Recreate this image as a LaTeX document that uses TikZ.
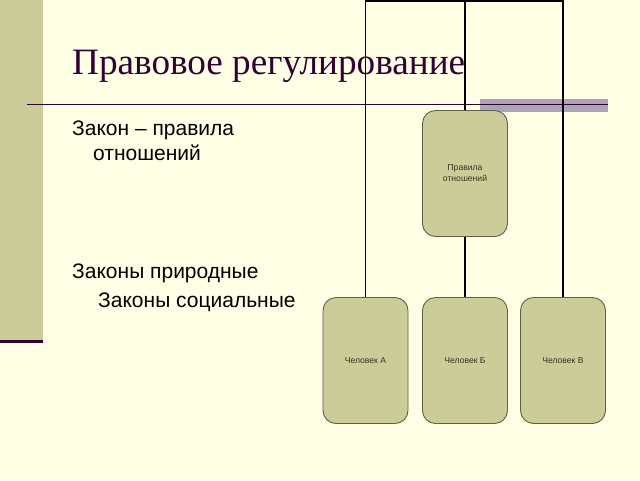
\documentclass[tikz,border=0pt]{standalone}
\usepackage{fontspec}
\setmainfont{Liberation Serif}
\newfontfamily\bodyfont{Liberation Sans}
\definecolor{bgcream}{HTML}{FFFFE5}
\definecolor{olivebar}{HTML}{CCCC99}
\definecolor{darkpurple}{HTML}{330033}
\definecolor{graybar}{HTML}{ADA4B9}
\definecolor{boxedge}{HTML}{5F5F4A}
\definecolor{boxtext}{HTML}{333322}
\begin{document}
\begin{tikzpicture}[x=1pt,y=-1pt,
  orgbox/.style={draw=boxedge, line width=0.9pt, fill=olivebar, rounded corners=13pt,
    minimum width=85pt, minimum height=126pt, inner sep=0pt,
    font=\bodyfont\fontsize{8.6}{11}\selectfont, text=boxtext, align=center},
  bodytext/.style={anchor=base west, inner sep=0pt, font=\bodyfont\fontsize{21}{25}\selectfont, text=black},
  conn/.style={draw=black, line width=1.8pt}]
\useasboundingbox (0,0) rectangle (640,480);
\fill[bgcream] (0,0) rectangle (640,480);
% left bar
\fill[olivebar] (0,0) rectangle (42.5,340);
\fill[darkpurple] (0,340) rectangle (42.5,343);
% gray accent bar
\fill[graybar] (480,99) rectangle (608,111.5);
% title rule
\draw[darkpurple, line width=1.4pt] (27,104.5) -- (608,104.5);
% title
\node[anchor=base west, inner sep=0pt, font=\fontsize{37.2}{41}\selectfont, text=darkpurple] (title) at (72,74) {Правовое регулирование};
% body text
\node[bodytext] (t1) at (72,135) {Закон – правила};
\node[bodytext] (t2) at (93,160) {отношений};
\node[bodytext] (t3) at (72,278) {Законы природные};
\node[bodytext] (t4) at (98,307) {Законы социальные};
% org chart
\node[orgbox] (top) at (465,173.5) {Правила\\отношений};
\node[orgbox] (pa) at (365.5,360.5) {Человек А};
\node[orgbox] (pb) at (465,360.5) {Человек Б};
\node[orgbox] (pc) at (563,360.5) {Человек В};
\coordinate (hub) at (465,0.9);
\draw[conn] (top.north) -- (hub);
\draw[conn] (pa.north) |- (hub) -| (pc.north);
\draw[conn] (top.south) -- (pb.north);
\end{tikzpicture}
\end{document}
